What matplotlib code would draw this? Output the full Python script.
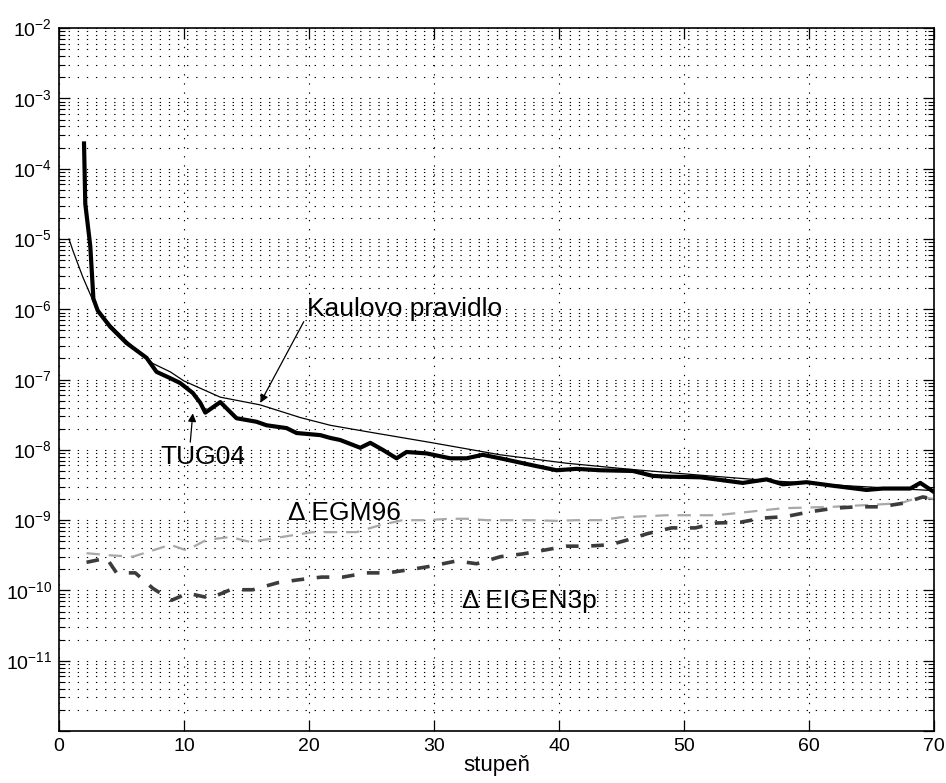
import numpy as np
import matplotlib
matplotlib.use("Agg")
import matplotlib.pyplot as plt
from matplotlib.ticker import LogLocator, FixedLocator, NullFormatter

plt.rcParams['font.family'] = ['Liberation Sans', 'DejaVu Sans']
plt.rcParams['mathtext.fontset'] = 'custom'
plt.rcParams['mathtext.rm'] = 'Liberation Sans'

# values: degree and log10 of the value
tug04_deg = [2.0, 2.1, 2.5, 2.75, 3.1, 4.1, 5.4, 7.0, 7.8, 8.9, 9.7, 10.7, 11.3, 11.7,
             12.9, 14.2, 15.8, 16.6, 18.2, 19.0, 20.9, 21.7, 22.5, 24.1, 24.9, 25.9,
             27.0, 27.8, 29.4, 31.3, 32.6, 33.9, 35.3, 36.6, 37.9, 39.8, 41.4, 43.3,
             45.9, 47.5, 48.6, 51.3, 54.7, 56.6, 57.9, 59.8, 61.9, 64.6, 65.9, 68.1,
             68.9, 70.0]
tug04_log = [-3.64, -4.5, -5.1, -5.85, -6.02, -6.25, -6.48, -6.69, -6.89, -6.98, -7.05,
             -7.19, -7.33, -7.47, -7.32, -7.55, -7.60, -7.65, -7.69, -7.76, -7.79,
             -7.83, -7.86, -7.97, -7.90, -8.0, -8.12, -8.03, -8.05, -8.12, -8.12, -8.07,
             -8.12, -8.17, -8.22, -8.29, -8.27, -8.29, -8.30, -8.37, -8.38, -8.39,
             -8.47, -8.42, -8.49, -8.46, -8.51, -8.57, -8.55, -8.55, -8.47, -8.60]

kaula_deg = [0.8, 1.1, 1.9, 2.7, 3.0, 4.0, 5.0, 6.0, 7.5, 8.9, 10.0, 12.9, 16.1, 19.3,
             21.7, 24.6, 29.9, 35.3, 40.6, 45.9, 51.3, 57.0, 63.0, 70.0]
kaula_log = [-5.0, -5.16, -5.54, -5.87, -5.98, -6.2, -6.38, -6.55, -6.77, -6.89, -7.02,
             -7.25, -7.36, -7.54, -7.65, -7.74, -7.90, -8.07, -8.19, -8.28, -8.36,
             -8.44, -8.51, -8.58]

egm96_deg = [2.2, 4.1, 5.9, 7.5, 8.9, 10.2, 11.8, 13.7, 15.3, 17.1, 18.5, 20.3, 21.9,
             23.8, 25.7, 27.5, 29.4, 31.3, 32.6, 34.2, 36.1, 37.9, 39.8, 41.4, 43.3,
             44.9, 48.6, 52.6, 57.9, 61.9, 67.3, 68.9, 70.0]
egm96_log = [-9.47, -9.50, -9.52, -9.43, -9.35, -9.43, -9.28, -9.24, -9.31, -9.26, -9.22,
             -9.17, -9.17, -9.17, -9.07, -9.0, -9.0, -8.98, -8.98, -9.0, -9.0, -9.0,
             -9.01, -9.0, -9.0, -8.96, -8.93, -8.93, -8.83, -8.81, -8.76, -8.67, -8.7]

eigen_deg = [2.2, 3.8, 4.6, 6.1, 7.5, 9.0, 10.3, 12.1, 13.7, 15.5, 17.5, 19.1, 21.0,
             22.7, 24.6, 26.3, 28.2, 29.9, 31.8, 33.4, 35.3, 37.1, 38.7, 40.6, 42.2,
             44.1, 45.5, 47.1, 49.0, 50.9, 52.6, 54.5, 56.3, 58.1, 60.1, 62.0, 63.8,
             65.7, 67.5, 69.1, 70.0]
eigen_log = [-9.60, -9.54, -9.75, -9.75, -9.97, -10.14, -10.04, -10.11, -9.99, -9.99,
             -9.89, -9.85, -9.81, -9.81, -9.75, -9.75, -9.70, -9.65, -9.58, -9.62,
             -9.52, -9.48, -9.43, -9.37, -9.37, -9.35, -9.28, -9.19, -9.11, -9.11,
             -9.04, -9.03, -8.97, -8.95, -8.88, -8.83, -8.81, -8.81, -8.76, -8.67, -8.7]

x_ticks = [0, 10, 20, 30, 40, 50, 60, 70]
y_exps = [-12, -11, -10, -9, -8, -7, -6, -5, -4, -3, -2]


def main():
    fig = plt.figure(figsize=(9.46, 7.83), dpi=100)
    ax = fig.add_axes([0.0624, 0.0664, 0.925, 0.8976])

    ax.set_yscale('log')
    ax.set_xlim(0, 70)
    ax.set_ylim(1e-12, 1e-2)

    dots = (0, (1.2, 7))
    ax.grid(True, which='major', axis='both', color='black', linestyle=dots, lw=0.8)
    ax.grid(True, which='minor', axis='y', color='black', linestyle=dots, lw=0.8)
    ax.set_axisbelow(True)

    ax.plot(egm96_deg, 10 ** np.array(egm96_log), color='#a8a8a8', lw=1.6,
            linestyle=(0, (6, 4)))
    ax.plot(eigen_deg, 10 ** np.array(eigen_log), color='#3c3c3c', lw=2.6,
            linestyle=(0, (3.5, 3.5)))
    ax.plot(kaula_deg, 10 ** np.array(kaula_log), color='black', lw=0.9)
    ax.plot(tug04_deg, 10 ** np.array(tug04_log), color='black', lw=3.0)

    ax.xaxis.set_major_locator(FixedLocator(x_ticks))
    ax.set_yticks([10.0 ** e for e in y_exps])
    ax.set_yticklabels([''] + ['$10^{%d}$' % e for e in y_exps[1:]])
    ax.yaxis.set_minor_locator(LogLocator(base=10, subs=np.arange(2, 10), numticks=20))
    ax.yaxis.set_minor_formatter(NullFormatter())
    ax.tick_params(which='both', direction='in', top=True, right=True,
                   labelsize=14, pad=5)
    ax.tick_params(which='major', length=8, width=0.9)
    ax.tick_params(which='minor', length=4, width=0.8)
    for s in ax.spines.values():
        s.set_linewidth(1.2)

    ax.set_xlabel('stupeň', fontsize=16, labelpad=0)

    ax.annotate('Kaulovo pravidlo', xy=(16.1, 10 ** -7.33), xytext=(19.8, 10 ** -6.0),
                fontsize=19, va='center', ha='left',
                arrowprops=dict(arrowstyle='-|>', color='black', lw=0.9,
                                shrinkA=0, shrinkB=0, mutation_scale=12,
                                relpos=(0.0, 0.2)))
    ax.annotate('TUG04', xy=(10.7, 10 ** -7.48), xytext=(8.1, 10 ** -8.1),
                fontsize=19, va='center', ha='left',
                arrowprops=dict(arrowstyle='-|>', color='black', lw=0.9,
                                shrinkA=0, shrinkB=0, mutation_scale=12,
                                relpos=(0.35, 1.0)))
    ax.text(18.3, 10 ** -8.9, 'Δ EGM96', fontsize=19, va='center', ha='left')
    ax.text(32.2, 10 ** -10.15, 'Δ EIGEN3p', fontsize=19, va='center', ha='left')

    fig.savefig('out.png', dpi=100)


if __name__ == '__main__':
    main()
